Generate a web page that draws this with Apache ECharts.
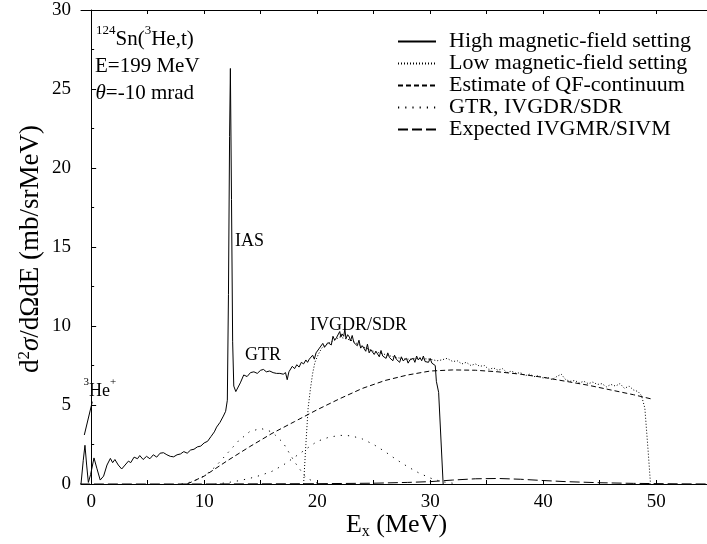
<!DOCTYPE html>
<html>
<head>
<meta charset="utf-8">
<script src="https://cdn.jsdelivr.net/npm/echarts@6/dist/echarts.min.js"></script>
<style>html,body{margin:0;padding:0;background:#fff}#c{width:707px;height:544px}</style>
</head>
<body>
<div id="c"></div>
<script>
// ---------- data ----------
const seriesNames = ['High magnetic-field setting','Low magnetic-field setting','Estimate of QF-continuum','GTR, IVGDR/SDR','Expected IVGMR/SIVM'];
const xLabelValues = [0,10,20,30,40,50];
const xTickValues = [0,5,10,15,20,25,30,35,40,45,50];

const highField = [[-0.9,0],[-0.7,1.5],[-0.55,2.45],[-0.4,1.2],[-0.25,0.1],[-0.05,0.6],[0.25,1.65],[0.5,1.0],[0.8,0.25],[1.1,0.5],[1.4,1.2],[1.7,1.62],[1.9,1.35],[2.1,1.55],[2.4,1.2],[2.7,0.95],[3.0,1.2],[3.3,1.45],[3.5,1.35],[3.8,1.7],[4.1,1.6],[4.3,1.8],[4.6,1.55],[4.9,1.75],[5.2,1.6],[5.5,1.85],[5.8,1.7],[6.1,1.95],[6.4,1.98],[6.7,1.85],[7.0,1.75],[7.3,1.72],[7.6,1.85],[7.9,1.9],[8.2,2.05],[8.5,1.95],[8.8,2.15],[9.1,2.2],[9.4,2.35],[9.7,2.4],[10.0,2.6],[10.3,2.7],[10.6,3.0],[10.9,3.3],[11.1,3.6],[11.4,3.9],[11.7,4.3],[11.9,4.6],[12.05,5.3],[12.15,12],[12.25,22],[12.32,26.3],[12.42,18],[12.52,9],[12.62,6.2],[12.8,5.85],[12.95,5.9],[13.2,6.4],[13.5,6.9],[13.8,6.8],[14.1,7.05],[14.4,7.1],[14.7,7.0],[15.0,7.2],[15.25,7.25],[15.5,7.1],[15.8,7.15],[16.1,7.05],[16.4,7.0],[16.7,7.0],[17.0,6.95],[17.2,7.05],[17.35,6.6],[17.5,7.1],[17.8,7.45],[18.0,7.3],[18.2,7.55],[18.4,7.4],[18.6,7.7],[18.8,7.6],[19.0,7.85],[19.15,7.7],[19.3,7.9],[19.45,7.85],[19.6,8.15],[19.75,7.9],[19.9,8.3],[20.05,8.35],[20.2,8.6],[20.35,8.5],[20.5,8.9],[20.65,8.65],[20.8,8.8],[20.95,8.95],[21.1,9.05],[21.25,8.8],[21.4,9.35],[21.55,9.1],[21.7,9.25],[21.85,9.2],[22.0,9.65],[22.1,9.3],[22.2,9.5],[22.35,9.35],[22.45,9.8],[22.55,9.2],[22.7,9.45],[22.85,9.3],[22.95,9.05],[23.1,9.4],[23.25,8.95],[23.4,9.05],[23.55,8.75],[23.7,9.1],[23.85,8.6],[24.0,8.75],[24.15,8.7],[24.3,8.4],[24.45,8.85],[24.6,8.3],[24.75,8.5],[24.9,8.55],[25.05,8.2],[25.2,8.4],[25.35,8.3],[25.5,8.05],[25.65,8.45],[25.8,8.1],[25.95,8.2],[26.1,7.95],[26.25,8.3],[26.4,8.0],[26.55,8.1],[26.7,7.8],[26.85,8.15],[27.0,7.9],[27.15,7.95],[27.3,7.7],[27.45,8.05],[27.6,7.8],[27.75,7.75],[27.9,7.95],[28.05,7.65],[28.2,7.85],[28.35,7.8],[28.5,7.95],[28.65,7.7],[28.8,8.1],[28.95,7.85],[29.1,8.0],[29.25,7.8],[29.4,8.1],[29.55,7.75],[29.7,7.85],[29.85,7.7],[30.0,7.95],[30.15,7.65],[30.3,7.7],[30.45,7.5],[30.55,6.5],[30.75,5.8],[31.15,0]];

const lowField = [[18.8,0],[19.0,2.5],[19.2,4.8],[19.4,6.0],[19.6,7.0],[19.8,7.7],[20.1,8.2],[20.4,8.6],[21,8.9],[22,9.3],[23,9.1],[24,8.7],[25,8.4],[26,8.2],[27,8.0],[28,7.9],[29,7.95],[30,7.9],[30.6,7.8],[31.0,7.85],[31.5,7.95],[32.0,7.75],[32.4,7.8],[32.8,7.6],[33.2,7.7],[33.6,7.5],[34.0,7.6],[34.4,7.45],[34.8,7.5],[35.2,7.25],[35.6,7.35],[36.0,7.2],[36.4,7.3],[36.8,7.05],[37.2,7.15],[37.6,7.0],[38.0,7.05],[38.4,6.85],[38.8,6.95],[39.2,6.8],[39.6,6.85],[40.0,6.7],[40.4,6.75],[40.8,6.6],[41.2,6.8],[41.6,6.95],[42.0,6.6],[42.4,6.5],[42.8,6.55],[43.2,6.4],[43.6,6.5],[44.0,6.35],[44.4,6.45],[44.8,6.3],[45.2,6.35],[45.6,6.15],[46.0,6.3],[46.4,6.2],[46.8,6.35],[47.2,6.05],[47.6,6.2],[48.0,5.95],[48.4,5.85],[48.7,5.6],[49.0,4.8],[49.3,2.0],[49.5,0]];

const qfContinuum = [[8.5,0],[10,0.5],[12,1.45],[14,2.35],[16,3.2],[18,3.95],[20,4.7],[22,5.4],[24,6.05],[26,6.55],[28,6.9],[30,7.15],[32,7.22],[34,7.2],[36,7.1],[38,6.95],[40,6.75],[42,6.5],[44,6.25],[46,5.95],[48,5.65],[49.6,5.38]];

const gtr = [[8,0],[9,0.15],[10,0.5],[11,1.1],[12,1.9],[13,2.7],[14,3.3],[15,3.52],[16,3.3],[17,2.6],[18,1.4],[19,0.4],[20,0.05]];

const ivgdr = [[11,0],[12,0.08],[13,0.2],[14,0.35],[15,0.55],[16,0.8],[17,1.2],[18,1.7],[19,2.2],[20,2.7],[21,2.95],[22,3.08],[23,3.05],[24,2.85],[25,2.5],[26,2.05],[27,1.55],[28,1.1],[29,0.7],[30,0.38],[31,0.15],[32,0.05]];

const ivgmr = [[-1,0],[10,0],[20,0.02],[25,0.05],[28,0.1],[30,0.15],[32,0.25],[34,0.33],[36,0.35],[38,0.3],[40,0.22],[42,0.15],[45,0.08],[48,0.04],[52,0.01],[55,0]];

// ---------- chart ----------
const FONT = '"Liberation Serif","Times New Roman",serif';
const chart = echarts.init(document.getElementById('c'), null, {renderer:'canvas'});

function lineSeries(name, data, type, z){
  return {name:name, type:'line', data:data, symbol:'none', smooth:false, z:z||2,
    lineStyle:{color:'#000', width:1, type:type},
    itemStyle:{color:'rgba(0,0,0,0)', borderWidth:0, borderColor:'rgba(0,0,0,0)'},
    animation:false, emphasis:{disabled:true}};
}

const axisCommon = {
  axisLine:{show:true, lineStyle:{color:'#000', width:1}},
  splitLine:{show:false}
};

const richMain = (size, lh) => ({
  n:{fontSize:size, fontFamily:FONT, lineHeight:lh||30, color:'#000'},
  i:{fontSize:size, fontFamily:FONT, fontStyle:'italic', lineHeight:lh||30, color:'#000'},
  sup:{fontSize:Math.round(size*0.62), fontFamily:FONT, lineHeight:Math.round(size*0.62), verticalAlign:'top', color:'#000'},
  sub:{fontSize:Math.round(size*0.62), fontFamily:FONT, lineHeight:Math.round(size*0.62), verticalAlign:'bottom', color:'#000'}
});

const textBlock = (x, y, text, size) => ({
  type:'text', x:x, y:y, silent:true,
  style:{text:text, fill:'#000', font: size+'px '+FONT, fontSize:size, fontFamily:FONT,
    textAlign:'left', align:'left', textVerticalAlign:'middle', verticalAlign:'middle', rich:richMain(size)}
});

chart.setOption({
  animation:false,
  backgroundColor:'#fff',
  grid:{left:81, top:10, right:0, height:474, containLabel:false},
  legend:{
    data:seriesNames, orient:'vertical', left:397, top:30.5, padding:0,
    itemWidth:38, itemHeight:14, itemGap:0,
    selectedMode:false,
    itemStyle:{color:'rgba(0,0,0,0)', borderWidth:0},
    textStyle:{fontFamily:FONT, fontSize:22, color:'#000', lineHeight:21.7, padding:[0,0,0,8]}
  },
  xAxis:[
    Object.assign({type:'value', min:-0.9, max:54.5, position:'bottom',
      axisTick:{show:true, inside:true, length:4, customValues:xTickValues, lineStyle:{color:'#000'}},
      axisLabel:{show:true, customValues:xLabelValues, fontFamily:FONT, fontSize:19, color:'#000', margin:9}
    }, axisCommon),
    Object.assign({type:'value', min:-0.9, max:54.5, position:'top',
      axisTick:{show:true, inside:true, length:4, customValues:xTickValues, lineStyle:{color:'#000'}},
      axisLabel:{show:false, customValues:xLabelValues}
    }, axisCommon)
  ],
  yAxis:[
    Object.assign({type:'value', min:0, max:30, interval:5, position:'left',
      axisTick:{show:true, inside:true, length:5, lineStyle:{color:'#000'}},
      minorTick:{show:true, splitNumber:2, length:3, lineStyle:{color:'#000'}},
      minorSplitLine:{show:false},
      axisLabel:{fontFamily:FONT, fontSize:19, color:'#000', margin:10}
    }, axisCommon)
  ],
  series:[
    lineSeries(seriesNames[4], ivgmr, [10,4], 1),
    lineSeries(seriesNames[3], gtr, [1.2,6], 1),
    lineSeries(seriesNames[3], ivgdr, [1.2,6], 1),
    lineSeries(seriesNames[2], qfContinuum, [5,3], 2),
    lineSeries(seriesNames[1], lowField, [1,2], 3),
    lineSeries(seriesNames[0], highField, 'solid', 4)
  ],
  graphic:[
    textBlock(96, 39, '{sup|124}{n|Sn(}{sup|3}{n|He,t)}', 21),
    textBlock(95, 66.7, '{n|E=199 MeV}', 21),
    textBlock(95.5, 93, '{i|θ}{n|=-10 mrad}', 21),
    textBlock(83.5, 391.5, '{sup|3}{n|He}{sup|+}', 18),
    textBlock(235, 241.7, '{n|IAS}', 18),
    textBlock(245, 355, '{n|GTR}', 18),
    textBlock(310, 325, '{n|IVGDR/SDR}', 18),
    {type:'line', silent:true, shape:{x1:84.3, y1:435, x2:92.3, y2:401.7}, style:{stroke:'#000', lineWidth:1}},
    {type:'text', x:396.5, y:525, silent:true,
      style:{text:'{n|E}{sub|x}{n| (MeV)}', fill:'#000', font:'26px '+FONT, textAlign:'center', align:'center',
        textVerticalAlign:'middle', verticalAlign:'middle', rich:richMain(26)}},
    {type:'text', x:31, y:249, rotation:Math.PI/2, silent:true,
      style:{text:'{n|d}{sup|2}{i|σ}{n|/dΩdE (mb/srMeV)}', fill:'#000', font:'27px '+FONT, textAlign:'center', align:'center',
        textVerticalAlign:'middle', verticalAlign:'middle', rich:richMain(27)}}
  ]
});
</script>
</body>
</html>
